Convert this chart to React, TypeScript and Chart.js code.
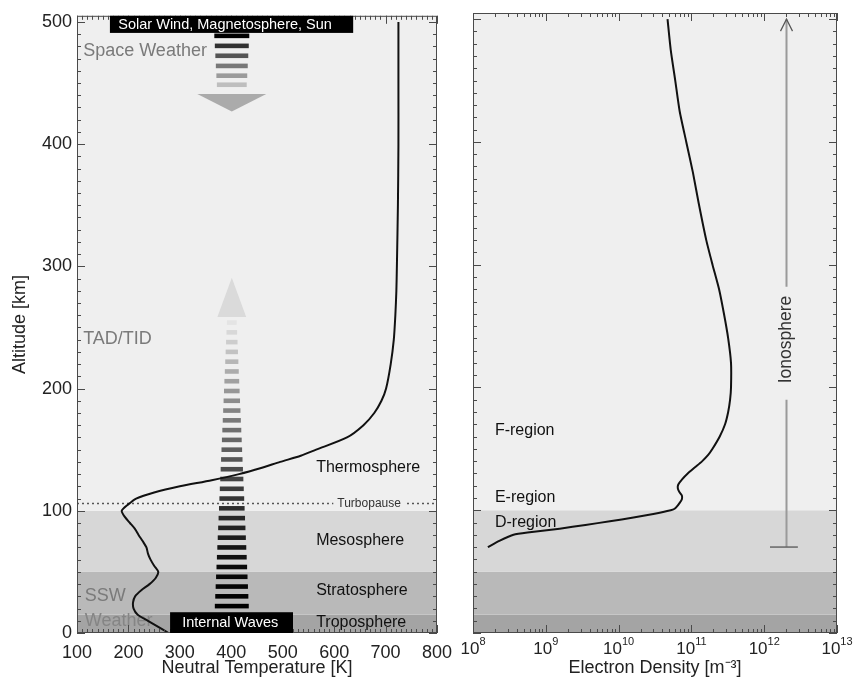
import React, { useEffect, useRef } from "react";
import { Chart, registerables } from "chart.js";

Chart.register(...registerables);

// ---------------- data ----------------
const tempAltitudeKm = [0, 5, 10, 15, 20, 25, 30, 35, 40, 45, 50, 55, 60, 65, 70, 75, 80, 85, 90, 95, 100, 105, 110, 115, 120, 125, 130, 135, 140, 145, 150, 160, 170, 180, 190, 200, 220, 240, 260, 280, 300, 350, 400, 450, 500];
const neutralTempK = [278, 258, 238, 218, 210, 209, 213, 225, 241, 253, 258, 250, 243, 238, 235, 228, 220, 213, 203, 193, 187, 199, 215, 250, 300, 362, 415, 458, 495, 535, 565, 625, 657, 678, 692, 701, 710, 716, 719, 721, 722, 724, 725, 725, 725];

const densityAltitudeKm = [70, 75, 80, 82, 85, 88, 91, 94, 97, 100, 101, 103, 106, 109, 112, 115, 118, 121, 125, 130, 135, 140, 145, 150, 160, 170, 180, 190, 200, 220, 240, 260, 280, 300, 320, 350, 375, 400, 425, 450, 475, 500];
const electronDensityM3 = [1.6e8, 2.3e8, 3.6e8, 6e8, 1.55e9, 3.5e9, 7.6e9, 1.6e10, 3.0e10, 5.2e10, 5.8e10, 6.3e10, 6.9e10, 7.4e10, 7.4e10, 6.8e10, 6.5e10, 6.6e10, 7.4e10, 8.9e10, 1.12e11, 1.41e11, 1.7e11, 1.95e11, 2.45e11, 2.9e11, 3.2e11, 3.4e11, 3.5e11, 3.5e11, 3.2e11, 2.8e11, 2.4e11, 1.95e11, 1.6e11, 1.26e11, 1.05e11, 8.5e10, 6.9e10, 6.0e10, 5.2e10, 4.7e10];

const altTicks = [0, 100, 200, 300, 400, 500];
const altRange = [0, 505];
const tempTicks = [100, 200, 300, 400, 500, 600, 700, 800];
const tempRange = [100, 800];
const densityTicks = [1e8, 1e9, 1e10, 1e11, 1e12, 1e13];
const densityTickBase = "10";
const densityTickExponents = ["8", "9", "10", "11", "12", "13"];

// atmospheric layers
const layerNames = ["Troposphere", "Stratosphere", "Mesosphere", "Thermosphere"];
const layerBaseKm = [0, 15, 50, 100];
const layerTopKm = [15, 50, 100, 505];
const layerLabelKm = [8.4, 35, 76, 135.6];
const layerLabelTempK = 565;
const turbopauseKm = 106;
const turbopauseLabelTempK = 668;

// drivers (left panel)
const driverNames = ["Space Weather", "TAD/TID", "SSW", "Weather"];
const driverTempK = [112, 112, 115, 115];
const driverKm = [476, 240.6, 30.2, 9.8];

const boxLabels = ["Solar Wind, Magnetosphere, Sun", "Internal Waves"];
const boxTempRange = [[164, 637], [281, 520]];
const boxKmRange = [[491, 505], [0, 17]];
const boxTextTempK = [388, 398];

const waveColumnTempK = 401;
const downWaveKm = [488.6, 480.4, 472.3, 464, 456, 448.6];
const downArrowHeadKm = [441, 426.6];
const upWaveKm = [22, 30, 38, 46, 54, 62, 70, 78, 86, 94, 102, 110, 118, 126, 134, 142, 150, 158, 166, 174, 182, 190, 198, 206, 214, 222, 230, 238, 246, 254];
const upArrowHeadKm = [258.6, 290.6];

// ionosphere (right panel)
const ionoRegionNames = ["D-region", "E-region", "F-region"];
const ionoRegionKm = [90, 110, 165];
const ionoLabelDensity = 2.0e8;
const ionosphereKm = [70, 500];
const ionosphereDensity = 2e12;
const ionosphereCapDensity = [1.2e12, 2.9e12];
const ionosphereGapKm = [190, 282];
const ionosphereLabelKm = 239;

// ---------------- styles ----------------
const FONT = '"Liberation Sans", Arial, Helvetica, sans-serif';
const layerFill = ["#a4a4a4", "#b9b9b9", "#d7d7d7", "#efefef"];
const frameColor = "#4a4a4a";

function txt(ctx: CanvasRenderingContext2D, s: string, x: number, y: number, size: number, color: string, align: CanvasTextAlign = "left", rot = 0) {
  ctx.save();
  ctx.translate(x, y);
  if (rot) ctx.rotate(rot);
  ctx.font = `${size}px ${FONT}`;
  ctx.fillStyle = color;
  ctx.textAlign = align;
  ctx.textBaseline = "middle";
  ctx.fillText(s, 0, 0);
  ctx.restore();
}

function fillBands(chart: any) {
  const { ctx, chartArea: a, scales } = chart;
  const y = scales.y;
  ctx.save();
  for (let i = 0; i < layerBaseKm.length; i++) {
    const top = Math.max(a.top, y.getPixelForValue(layerTopKm[i]));
    const bot = Math.min(a.bottom, y.getPixelForValue(layerBaseKm[i]));
    ctx.fillStyle = layerFill[i];
    ctx.fillRect(a.left, top, a.right - a.left, bot - top);
  }
  ctx.restore();
}

function drawFrame(chart: any, xMinor: number[], xMajor: number[]) {
  const { ctx, chartArea: a, scales } = chart;
  const x = scales.x, y = scales.y;
  ctx.save();
  ctx.strokeStyle = frameColor;
  ctx.lineWidth = 1;
  ctx.beginPath();
  const vt = (v: number, len: number) => {
    const px = Math.round(x.getPixelForValue(v)) + 0.5;
    ctx.moveTo(px, a.bottom); ctx.lineTo(px, a.bottom - len);
    ctx.moveTo(px, a.top); ctx.lineTo(px, a.top + len);
  };
  const ht = (v: number, len: number) => {
    const py = Math.round(y.getPixelForValue(v)) + 0.5;
    ctx.moveTo(a.left, py); ctx.lineTo(a.left + len, py);
    ctx.moveTo(a.right, py); ctx.lineTo(a.right - len, py);
  };
  xMinor.forEach((v) => vt(v, 4));
  xMajor.forEach((v) => vt(v, 8));
  for (let v = altRange[0]; v <= 500; v += 10) ht(v, 4);
  altTicks.forEach((v) => ht(v, 8));
  ctx.stroke();
  ctx.strokeRect(a.left + 0.5, a.top + 0.5, a.right - a.left - 1, a.bottom - a.top - 1);
  ctx.restore();
}

const tempMinor: number[] = [];
for (let v = tempRange[0]; v <= tempRange[1]; v += 10) tempMinor.push(v);
const densityMinor: number[] = [];
for (let e = 8; e < 13; e++) for (let m = 2; m <= 9; m++) densityMinor.push(m * Math.pow(10, e));

const leftDecor = {
  id: "leftDecor",
  beforeDatasetsDraw(chart: any) {
    const { ctx, chartArea: a, scales } = chart;
    const x = scales.x, y = scales.y;
    fillBands(chart);
    // turbopause dotted line
    const ty = y.getPixelForValue(turbopauseKm);
    ctx.save();
    ctx.strokeStyle = "#555";
    ctx.lineWidth = 1.5;
    ctx.setLineDash([2, 3]);
    ctx.beginPath();
    ctx.moveTo(a.left, ty); ctx.lineTo(a.right, ty);
    ctx.stroke();
    ctx.restore();
    ctx.save();
    ctx.font = `12px ${FONT}`;
    const tw = ctx.measureText("Turbopause").width;
    const tx = x.getPixelForValue(turbopauseLabelTempK);
    ctx.fillStyle = layerFill[3];
    ctx.fillRect(tx - tw / 2 - 4, ty - 6, tw + 8, 12);
    ctx.restore();
    txt(ctx, "Turbopause", tx, ty, 12, "#333", "center");
    // layer labels
    layerNames.forEach((n, i) => txt(ctx, n, x.getPixelForValue(layerLabelTempK), y.getPixelForValue(layerLabelKm[i]), 16, "#111"));
    // driver labels
    driverNames.forEach((n, i) => txt(ctx, n, x.getPixelForValue(driverTempK[i]), y.getPixelForValue(driverKm[i]), 18, i === 3 ? "#858585" : "#7a7a7a"));
    // downward wave bars
    const cx = x.getPixelForValue(waveColumnTempK);
    const pxPerK = Math.abs(x.getPixelForValue(200) - x.getPixelForValue(100)) / 100;
    const downGray = [0, 50, 85, 120, 155, 190];
    downWaveKm.forEach((h, i) => {
      const w = (68 - i * 2) * pxPerK;
      const py = y.getPixelForValue(h);
      const g = downGray[i];
      ctx.fillStyle = `rgb(${g},${g},${g})`;
      ctx.fillRect(cx - w / 2, py - 2.3, w, 4.6);
    });
    {
      const yb = y.getPixelForValue(downArrowHeadKm[0]);
      const yt = y.getPixelForValue(downArrowHeadKm[1]);
      const hw = 67 * pxPerK;
      ctx.fillStyle = "#ababab";
      ctx.beginPath();
      ctx.moveTo(cx - hw, yb); ctx.lineTo(cx + hw, yb); ctx.lineTo(cx, yt); ctx.closePath();
      ctx.fill();
    }
    // upward wave bars
    const n = upWaveKm.length;
    upWaveKm.forEach((h, i) => {
      const f = i / (n - 1);
      const w = (66 - 47 * f) * pxPerK;
      const g = Math.round(228 * Math.pow(f, 1.5));
      const py = y.getPixelForValue(h);
      ctx.fillStyle = `rgb(${g},${g},${g})`;
      ctx.fillRect(cx - w / 2, py - 2.3, w, 4.6);
    });
    {
      const yb = y.getPixelForValue(upArrowHeadKm[0]);
      const yt = y.getPixelForValue(upArrowHeadKm[1]);
      const hw = 28 * pxPerK;
      ctx.fillStyle = "#dadada";
      ctx.beginPath();
      ctx.moveTo(cx - hw, yb); ctx.lineTo(cx + hw, yb); ctx.lineTo(cx, yt); ctx.closePath();
      ctx.fill();
    }
  },
  afterDatasetsDraw(chart: any) {
    const { ctx, scales } = chart;
    const x = scales.x, y = scales.y;
    drawFrame(chart, tempMinor, tempTicks);
    boxLabels.forEach((s, i) => {
      const x0 = x.getPixelForValue(boxTempRange[i][0]);
      const x1 = x.getPixelForValue(boxTempRange[i][1]);
      const y0 = y.getPixelForValue(boxKmRange[i][1]);
      const y1 = y.getPixelForValue(boxKmRange[i][0]);
      ctx.fillStyle = "#000";
      ctx.fillRect(x0, y0, x1 - x0, y1 - y0);
      txt(ctx, s, x.getPixelForValue(boxTextTempK[i]), (y0 + y1) / 2 + 0.5, 14.5, "#fff", "center");
    });
  },
};

const rightDecor = {
  id: "rightDecor",
  beforeDatasetsDraw(chart: any) {
    const { ctx, scales } = chart;
    const x = scales.x, y = scales.y;
    fillBands(chart);
    ionoRegionNames.forEach((s, i) => txt(ctx, s, x.getPixelForValue(ionoLabelDensity), y.getPixelForValue(ionoRegionKm[i]), 16, "#111"));
    const xi = Math.round(x.getPixelForValue(ionosphereDensity)) + 0.5;
    const yb = y.getPixelForValue(ionosphereKm[0]);
    const yt = y.getPixelForValue(ionosphereKm[1]);
    const g1 = y.getPixelForValue(ionosphereGapKm[0]);
    const g2 = y.getPixelForValue(ionosphereGapKm[1]);
    ctx.save();
    ctx.strokeStyle = "#9a9a9a";
    ctx.lineWidth = 2;
    ctx.beginPath();
    ctx.moveTo(xi, yb); ctx.lineTo(xi, g1);
    ctx.moveTo(xi, g2); ctx.lineTo(xi, yt);
    ctx.stroke();
    ctx.strokeStyle = "#666";
    ctx.lineWidth = 1.5;
    ctx.beginPath();
    ctx.moveTo(x.getPixelForValue(ionosphereCapDensity[0]), yb);
    ctx.lineTo(x.getPixelForValue(ionosphereCapDensity[1]), yb);
    ctx.stroke();
    ctx.strokeStyle = "#555";
    ctx.lineWidth = 1.2;
    ctx.beginPath();
    ctx.moveTo(xi - 6, yt + 12); ctx.lineTo(xi, yt); ctx.lineTo(xi + 6, yt + 12);
    ctx.stroke();
    ctx.restore();
    txt(ctx, "Ionosphere", xi, y.getPixelForValue(ionosphereLabelKm), 17.5, "#333", "center", -Math.PI / 2);
  },
  afterDatasetsDraw(chart: any) {
    const { ctx, chartArea: a, scales } = chart;
    const x = scales.x;
    drawFrame(chart, densityMinor, densityTicks);
    // log tick labels: "10" with superscript exponent
    ctx.save();
    ctx.fillStyle = "#222";
    ctx.textBaseline = "middle";
    ctx.textAlign = "left";
    densityTicks.forEach((v, i) => {
      ctx.font = `17px ${FONT}`;
      const wb = ctx.measureText(densityTickBase).width;
      ctx.font = `11px ${FONT}`;
      const we = ctx.measureText(densityTickExponents[i]).width;
      const px = x.getPixelForValue(v);
      const x0 = px - (wb + we) / 2;
      ctx.font = `17px ${FONT}`;
      ctx.fillText(densityTickBase, x0, a.bottom + 16);
      ctx.font = `11px ${FONT}`;
      ctx.fillText(densityTickExponents[i], x0 + wb, a.bottom + 9);
    });
    ctx.restore();
  },
};

const tickFont = { family: FONT, size: 18 };

function leftConfig(): any {
  return {
    type: "scatter",
    data: {
      datasets: [
        {
          data: tempAltitudeKm.map((h, i) => ({ x: neutralTempK[i], y: h })),
          showLine: true,
          borderColor: "#111",
          borderWidth: 2,
          pointRadius: 0,
          tension: 0.25,
          fill: false,
        },
      ],
    },
    options: {
      responsive: false,
      animation: false,
      layout: { padding: { top: 13, right: 33, left: 0, bottom: 0 } },
      plugins: { legend: { display: false }, tooltip: { enabled: false } },
      scales: {
        x: {
          type: "linear",
          min: tempRange[0],
          max: tempRange[1],
          grid: { display: false, drawTicks: false },
          border: { display: false },
          afterBuildTicks: (s: any) => { s.ticks = tempTicks.map((v) => ({ value: v })); },
          ticks: { font: tickFont, color: "#222", padding: 9, maxRotation: 0, autoSkip: false },
          title: { display: true, text: "Neutral Temperature [K]", font: tickFont, color: "#222", padding: { top: 0, bottom: 0 } },
          afterFit: (s: any) => { s.height = 46; },
        },
        y: {
          type: "linear",
          min: altRange[0],
          max: altRange[1],
          grid: { display: false, drawTicks: false },
          border: { display: false },
          afterBuildTicks: (s: any) => { s.ticks = altTicks.map((v) => ({ value: v })); },
          ticks: { font: tickFont, color: "#222", padding: 5, autoSkip: false },
          title: { display: true, text: "Altitude [km]", font: tickFont, color: "#222", padding: { top: 9, bottom: 0 } },
          afterFit: (s: any) => { s.width = 77; },
        },
      },
    },
    plugins: [leftDecor],
  };
}

function rightConfig(): any {
  return {
    type: "scatter",
    data: {
      datasets: [
        {
          data: densityAltitudeKm.map((h, i) => ({ x: electronDensityM3[i], y: h })),
          showLine: true,
          borderColor: "#111",
          borderWidth: 2,
          pointRadius: 0,
          tension: 0.2,
          fill: false,
        },
      ],
    },
    options: {
      responsive: false,
      animation: false,
      layout: { padding: { top: 13, right: 22, left: 0, bottom: 0 } },
      plugins: { legend: { display: false }, tooltip: { enabled: false } },
      scales: {
        x: {
          type: "logarithmic",
          min: densityTicks[0],
          max: densityTicks[densityTicks.length - 1],
          grid: { display: false, drawTicks: false },
          border: { display: false },
          afterBuildTicks: (s: any) => { s.ticks = densityTicks.map((v) => ({ value: v })); },
          ticks: { display: false },
          title: { display: true, text: "Electron Density [m⁻³]", font: tickFont, color: "#222", padding: { top: 0, bottom: 0 } },
          afterFit: (s: any) => { s.height = 46; },
        },
        y: {
          type: "linear",
          min: altRange[0],
          max: altRange[1],
          grid: { display: false, drawTicks: false },
          border: { display: false },
          ticks: { display: false },
          afterFit: (s: any) => { s.width = 33; },
        },
      },
    },
    plugins: [rightDecor],
  };
}

export default function App() {
  const leftRef = useRef<HTMLCanvasElement>(null);
  const rightRef = useRef<HTMLCanvasElement>(null);
  useEffect(() => {
    const c1 = new Chart(leftRef.current as HTMLCanvasElement, leftConfig());
    const c2 = new Chart(rightRef.current as HTMLCanvasElement, rightConfig());
    return () => { c1.destroy(); c2.destroy(); };
  }, []);
  return (
    <div style={{ position: "absolute", left: 0, top: 0, width: 859, height: 679, background: "#fff", overflow: "hidden" }}>
      <canvas ref={leftRef} width={470} height={679} style={{ position: "absolute", left: 0, top: 0, width: 470, height: 679 }} />
      <canvas ref={rightRef} width={419} height={679} style={{ position: "absolute", left: 440, top: 0, width: 419, height: 679 }} />
    </div>
  );
}
